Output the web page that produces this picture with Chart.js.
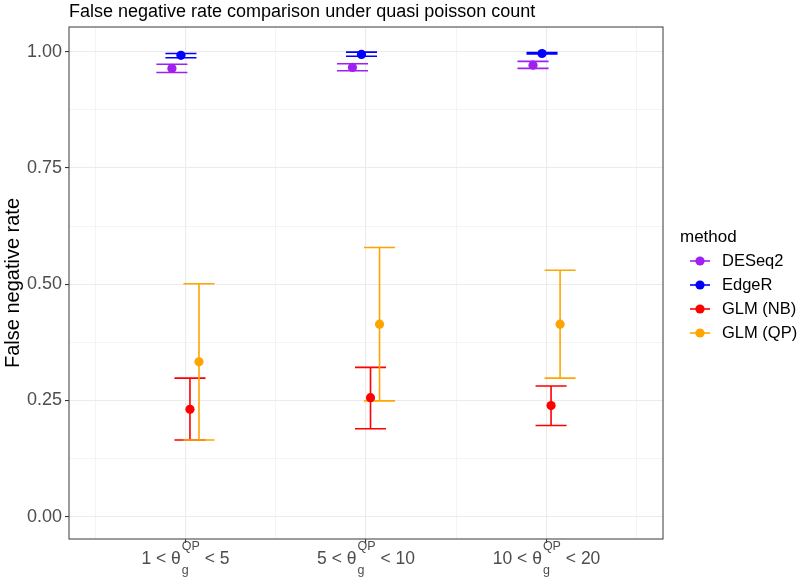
<!DOCTYPE html>
<html>
<head>
<meta charset="utf-8">
<script src="https://cdn.jsdelivr.net/npm/chart.js@4.4.0/dist/chart.umd.min.js"></script>
<style>
  html, body { margin: 0; padding: 0; background: #fff; }
  canvas { display: block; }
</style>
</head>
<body>
<canvas id="myChart" width="800" height="577"></canvas>
<script>
// theta ranges shown on the x axis
var rangeLow = [1, 5, 10];
var rangeHigh = [5, 10, 20];

var methods = ['DESeq2', 'EdgeR', 'GLM (NB)', 'GLM (QP)'];
var colors = ['#A020F0', '#0000FF', '#FF0000', '#FFA500'];

// false negative rate: mean and interval per range
var deseq2Mean = [0.964, 0.966, 0.971];
var deseq2Low = [0.955, 0.959, 0.964];
var deseq2High = [0.973, 0.974, 0.979];

var edgerMean = [0.992, 0.994, 0.996];
var edgerLow = [0.987, 0.990, 0.995];
var edgerHigh = [0.996, 0.999, 0.998];

var glmNbMean = [0.231, 0.256, 0.239];
var glmNbLow = [0.165, 0.189, 0.196];
var glmNbHigh = [0.298, 0.321, 0.281];

var glmQpMean = [0.333, 0.414, 0.414];
var glmQpLow = [0.165, 0.249, 0.298];
var glmQpHigh = [0.501, 0.579, 0.530];

var yTicks = [0, 0.25, 0.5, 0.75, 1];

var means = [deseq2Mean, edgerMean, glmNbMean, glmQpMean];
var lows = [deseq2Low, edgerLow, glmNbLow, glmQpLow];
var highs = [deseq2High, edgerHigh, glmNbHigh, glmQpHigh];

var dodge = [-0.075, -0.025, 0.025, 0.075];
var capHalf = 0.086;
var FONT = "'Liberation Sans', Arial, sans-serif";

var datasets = methods.map(function (m, k) {
  return {
    label: m,
    data: means[k].map(function (v, i) { return { x: i + 1 + dodge[k], y: v }; }),
    backgroundColor: colors[k],
    borderWidth: 0,
    pointRadius: 4.6,
    lo: lows[k],
    hi: highs[k]
  };
});

var errorBars = {
  id: 'errorBars',
  beforeDatasetsDraw: function (chart) {
    var ctx = chart.ctx, x = chart.scales.x, y = chart.scales.y;
    ctx.save();
    chart.data.datasets.forEach(function (ds, k) {
      ctx.strokeStyle = colors[k];
      ctx.lineWidth = 1.6;
      ds.data.forEach(function (p, i) {
        var px = x.getPixelForValue(p.x);
        var w = x.getPixelForValue(p.x + capHalf) - px;
        var yl = y.getPixelForValue(ds.lo[i]), yh = y.getPixelForValue(ds.hi[i]);
        ctx.beginPath();
        ctx.moveTo(px, yl); ctx.lineTo(px, yh);
        ctx.moveTo(px - w, yl); ctx.lineTo(px + w, yl);
        ctx.moveTo(px - w, yh); ctx.lineTo(px + w, yh);
        ctx.stroke();
      });
    });
    ctx.restore();
  },
  afterDraw: function (chart) {
    var ctx = chart.ctx, a = chart.chartArea, x = chart.scales.x;
    ctx.save();
    // panel border
    ctx.strokeStyle = '#4a4a4a';
    ctx.lineWidth = 1.1;
    ctx.strokeRect(a.left, a.top, a.right - a.left, a.bottom - a.top);

    // title
    ctx.fillStyle = '#000';
    ctx.font = '18px ' + FONT;
    ctx.textBaseline = 'middle';
    ctx.textAlign = 'left';
    ctx.fillText('False negative rate comparison under quasi poisson count', a.left, 12);

    // x labels: lo < theta_g^QP < hi
    ctx.fillStyle = '#4d4d4d';
    ctx.textBaseline = 'alphabetic';
    rangeLow.forEach(function (lo, i) {
      var t1 = lo + ' < \u03b8', t2 = ' < ' + rangeHigh[i];
      ctx.font = '17.5px ' + FONT;
      var w1 = ctx.measureText(t1).width, w3 = ctx.measureText(t2).width;
      ctx.font = '12.5px ' + FONT;
      var w2 = ctx.measureText('QP').width + 1;
      var cx = x.getPixelForValue(i + 1);
      var sx = cx - (w1 + w2 + w3) / 2;
      ctx.font = '17.5px ' + FONT;
      ctx.fillText(t1, sx, 564);
      ctx.fillText(t2, sx + w1 + w2, 564);
      ctx.font = '12.5px ' + FONT;
      ctx.fillText('QP', sx + w1 + 1, 550);
      ctx.fillText('g', sx + w1 + 1, 574);
    });

    // legend
    ctx.fillStyle = '#000';
    ctx.font = '17px ' + FONT;
    ctx.textBaseline = 'middle';
    ctx.fillText('method', 680, 237);
    ctx.font = '16.5px ' + FONT;
    methods.forEach(function (m, k) {
      var ly = 261 + k * 24;
      ctx.strokeStyle = colors[k];
      ctx.lineWidth = 1.6;
      ctx.beginPath(); ctx.moveTo(690, ly); ctx.lineTo(710, ly); ctx.stroke();
      ctx.fillStyle = colors[k];
      ctx.beginPath(); ctx.arc(700, ly, 4.6, 0, Math.PI * 2); ctx.fill();
      ctx.fillStyle = '#000';
      ctx.fillText(m, 722, ly);
    });
    ctx.restore();
  }
};

function isMajor(v) { return Math.abs(v * 4 - Math.round(v * 4)) < 1e-6; }

var ctx = document.getElementById('myChart').getContext('2d');
var myChart = new Chart(ctx, {
  type: 'scatter',
  data: { datasets: datasets },
  options: {
    responsive: false,
    animation: false,
    events: [],
    layout: { padding: { top: 27, right: 137, left: 0, bottom: 0 } },
    plugins: { legend: { display: false }, tooltip: { enabled: false }, title: { display: false } },
    scales: {
      x: {
        type: 'linear',
        min: 0.355,
        max: 3.645,
        afterBuildTicks: function (s) {
          s.ticks = [0.5, 1, 1.5, 2, 2.5, 3, 3.5].map(function (v) { return { value: v }; });
        },
        afterFit: function (s) { s.height = 38; },
        ticks: { callback: function () { return ''; } },
        border: { display: false },
        grid: {
          color: '#EBEBEB',
          lineWidth: function (c) { return c.tick && c.tick.value % 1 === 0 ? 1.1 : 0.55; },
          tickColor: function (c) { return c.tick && c.tick.value % 1 === 0 ? '#333' : 'rgba(0,0,0,0)'; },
          tickLength: 4,
          tickWidth: 1.1
        }
      },
      y: {
        min: -0.048,
        max: 1.053,
        afterBuildTicks: function (s) {
          var t = [];
          for (var v = 0; v <= 1.0001; v += 0.125) t.push({ value: v });
          s.ticks = t;
        },
        afterFit: function (s) { s.width = 69; },
        ticks: {
          padding: 3,
          color: '#4d4d4d',
          font: { family: FONT, size: 18 },
          callback: function (v) { return isMajor(v) && yTicks.indexOf(v) >= 0 ? v.toFixed(2) : ''; }
        },
        border: { display: false },
        grid: {
          color: '#EBEBEB',
          lineWidth: function (c) { return c.tick && isMajor(c.tick.value) ? 1.1 : 0.55; },
          tickColor: function (c) { return c.tick && isMajor(c.tick.value) ? '#333' : 'rgba(0,0,0,0)'; },
          tickLength: 4,
          tickWidth: 1.1
        },
        title: {
          display: true,
          text: 'False negative rate',
          color: '#000',
          font: { family: FONT, size: 20 },
          padding: { top: 1, bottom: 0 }
        }
      }
    }
  },
  plugins: [errorBars]
});
</script>
</body>
</html>
